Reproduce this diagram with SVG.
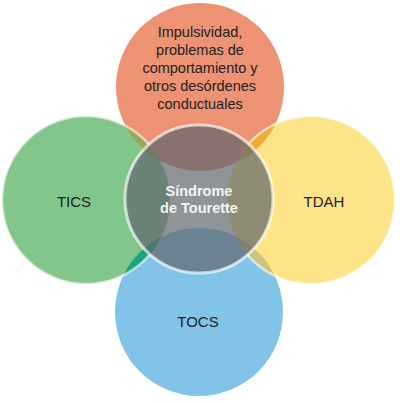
<svg xmlns="http://www.w3.org/2000/svg" width="400" height="402" viewBox="0 0 400 402">
<style>
.lbl{font-family:"Liberation Sans",Arial,sans-serif;font-size:15px;fill:#222;text-anchor:middle}
.top{font-size:14.5px}
.ctr{font-family:"Liberation Sans",Arial,sans-serif;font-size:14.5px;font-weight:bold;fill:#f4f4f4;text-anchor:middle}
.edge{fill:none;stroke:#fff;stroke-opacity:0.6;stroke-width:2.5}
</style>
<defs>
<clipPath id="cOrange"><circle cx="200" cy="87" r="84"/></clipPath>
<clipPath id="cBlue"><circle cx="199" cy="312" r="84"/></clipPath>
<mask id="outC"><rect width="400" height="402" fill="#fff"/><circle cx="199" cy="199" r="74" fill="#000"/></mask>
</defs>
<rect width="400" height="402" fill="#fff"/>
<g id="orange"><circle cx="200" cy="87" r="84" fill="#ed9272"/></g>
<g id="blue"><circle cx="199" cy="312" r="84" fill="#82c4e8"/></g>
<g id="green"><circle cx="86" cy="200" r="84" fill="#82c68c"/></g>
<g id="yellow"><circle cx="311" cy="200" r="84" fill="#fde488"/></g>
<g id="overlaps">
<circle cx="86" cy="200" r="84" fill="#97a84e" clip-path="url(#cOrange)"/>
<circle cx="311" cy="200" r="84" fill="#f2ab36" clip-path="url(#cOrange)"/>
<circle cx="86" cy="200" r="84" fill="#1ba283" clip-path="url(#cBlue)"/>
<circle cx="311" cy="200" r="84" fill="#c9c47e" clip-path="url(#cBlue)"/>
</g>
<g id="edges" mask="url(#outC)">
<circle class="edge" cx="86" cy="200" r="84"/>
<circle class="edge" cx="311" cy="200" r="84"/>
</g>
<g id="sindrome">
<circle cx="199" cy="199" r="74" fill="rgb(95,102,108)" fill-opacity="0.7"/>
<circle cx="199" cy="199" r="74" fill="none" stroke="#fff" stroke-opacity="0.65" stroke-width="3"/>
<text class="ctr" x="199" y="196">Síndrome</text>
<text class="ctr" x="199" y="213">de Tourette</text>
</g>
<g id="labels">
<text class="lbl top" x="200" y="37">Impulsividad,</text>
<text class="lbl top" x="200" y="55">problemas de</text>
<text class="lbl top" x="200" y="73">comportamiento y</text>
<text class="lbl top" x="200" y="91">otros desórdenes</text>
<text class="lbl top" x="200" y="109">conductuales</text>
<text class="lbl" x="74" y="207">TICS</text>
<text class="lbl" x="324" y="207">TDAH</text>
<text class="lbl" x="198" y="327">TOCS</text>
</g>
</svg>
